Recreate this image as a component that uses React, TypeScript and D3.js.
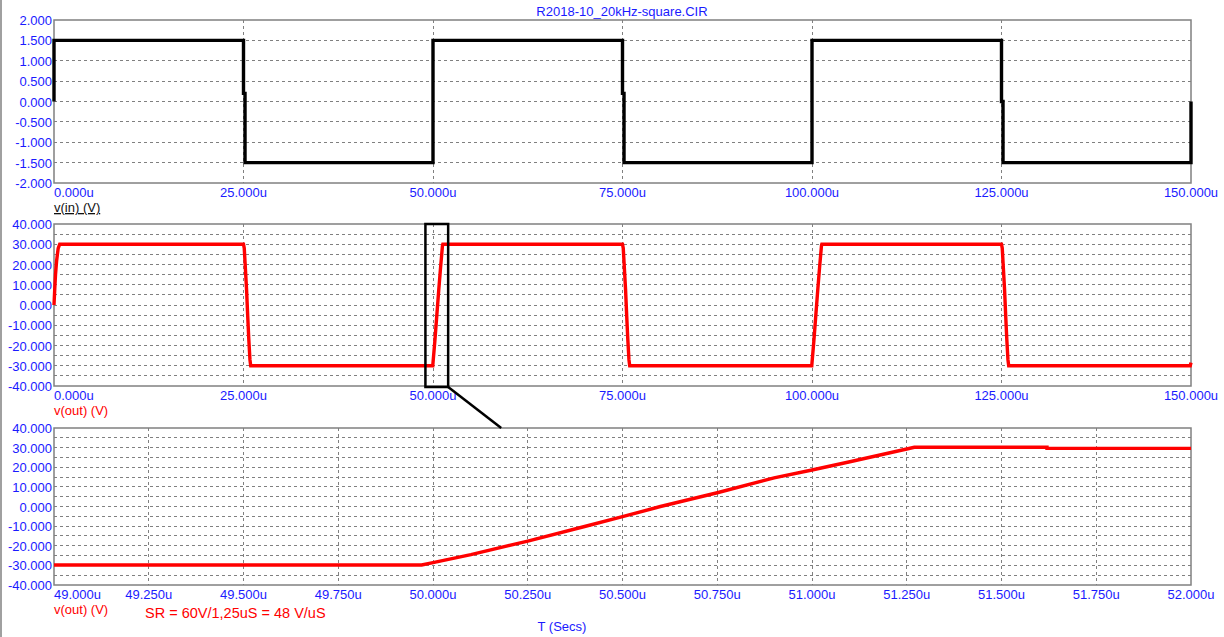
import React from "react";
import * as d3 from "d3";

// time in microseconds, value in volts
const vinPoints: [number, number][] = [
  [0, 0], [0, 1.5], [25, 1.5], [25, 0.2], [25.2, 0.2], [25.2, -1.5],
  [50, -1.5], [50, 1.5], [75, 1.5], [75, 0.2], [75.2, 0.2], [75.2, -1.5],
  [100, -1.5], [100, 1.5], [125, 1.5], [125, 0], [125.2, 0], [125.2, -1.5],
  [150, -1.5], [150, 0],
];

const voutPoints: [number, number][] = [
  [0, 0], [0.1, 8], [0.2, 15], [0.35, 22], [0.55, 28], [0.75, 30],
  [25, 30], [25.1, 28], [25.25, 18], [25.4, 8], [25.55, -5], [25.7, -17], [25.85, -27], [25.95, -30],
  [49.97, -30], [50, -28.6], [50.25, -17.6], [50.5, -5.2], [50.75, 7], [51, 18.6], [51.25, 29.3], [51.3, 30],
  [75, 30], [75.1, 28], [75.25, 18], [75.4, 8], [75.55, -5], [75.7, -17], [75.85, -27], [75.95, -30],
  [99.97, -30], [100, -28.6], [100.25, -17.6], [100.5, -5.2], [100.75, 7], [101, 18.6], [101.25, 29.3], [101.3, 30],
  [125, 30], [125.1, 28], [125.25, 18], [125.4, 8], [125.55, -5], [125.7, -17], [125.85, -27], [125.95, -30],
  [149.9, -30], [150, -28.5],
];

const zoomPoints: [number, number][] = [
  [49, -29.8], [49.97, -29.8], [50, -28.6], [50.1, -24.5], [50.25, -17.6], [50.4, -10.2],
  [50.5, -5.2], [50.6, 0], [50.75, 7], [50.9, 14.6], [51, 18.6], [51.1, 22.8], [51.25, 29.3],
  [51.27, 30.2], [51.62, 30.2], [51.62, 29.6], [52, 29.6],
];

const fullTimeTicks = [0, 25, 50, 75, 100, 125, 150];
const zoomTimeTicks = [49, 49.25, 49.5, 49.75, 50, 50.25, 50.5, 50.75, 51, 51.25, 51.5, 51.75, 52];
const vinTicks = [-2, -1.5, -1, -0.5, 0, 0.5, 1, 1.5, 2];
const voutTicks = [-40, -30, -20, -10, 0, 10, 20, 30, 40];
const voutGrid = [-35, -25, -15, -5, 5, 15, 25, 35];

const title = "R2018-10_20kHz-square.CIR";
const note = "SR = 60V/1,25uS = 48 V/uS";

const W = 1224;
const H = 637;
const left = 54;
const right = 1191;
const font = "'Liberation Sans', Arial, sans-serif";
const blue = "#1a1aff";
const grey = "#808080";

interface PanelProps {
  top: number;
  bottom: number;
  xDomain: [number, number];
  yDomain: [number, number];
  xTicks: number[];
  yTicks: number[];
  yGrid: number[];
  yFmt: (v: number) => string;
  data: [number, number][];
  color: string;
  label: string;
  labelColor: string;
  underline?: boolean;
}

function Panel(p: PanelProps) {
  const x = d3.scaleLinear().domain(p.xDomain).range([left, right]);
  const y = d3.scaleLinear().domain(p.yDomain).range([p.bottom, p.top]);
  const line = d3.line<[number, number]>().x(d => x(d[0])).y(d => y(d[1]));
  const inner = p.xTicks.slice(1, -1);
  return (
    <g>
      {p.yGrid.concat(p.yTicks.slice(1, -1)).map(v => (
        <line key={"h" + v} x1={left} x2={right} y1={y(v)} y2={y(v)}
          stroke={grey} strokeDasharray="3,3" shapeRendering="crispEdges" />
      ))}
      {inner.map(t => (
        <line key={"v" + t} x1={x(t)} x2={x(t)} y1={p.top} y2={p.bottom}
          stroke={grey} strokeDasharray="3,3" shapeRendering="crispEdges" />
      ))}
      <rect x={left} y={p.top} width={right - left} height={p.bottom - p.top}
        fill="none" stroke={grey} strokeWidth={1.5} />
      <path d={line(p.data) || ""} fill="none" stroke={p.color} strokeWidth={3.4} />
      {p.yTicks.map(v => (
        <text key={"yt" + v} x={left - 2} y={y(v) + 5} textAnchor="end"
          fontSize={13} fill={blue} fontFamily={font}>{p.yFmt(v)}</text>
      ))}
      {p.xTicks.map((t, i) => (
        <text key={"xt" + t} x={x(t)} y={p.bottom + 14} textAnchor={i === 0 ? "start" : "middle"}
          fontSize={13} fill={blue} fontFamily={font}>{t.toFixed(3) + "u"}</text>
      ))}
      <text x={left} y={p.bottom + 29} fontSize={13} fill={p.labelColor} fontFamily={font}
        textDecoration={p.underline ? "underline" : undefined}>{p.label}</text>
    </g>
  );
}

export default function App() {
  const fmt = (v: number) => v.toFixed(3);
  const x2 = d3.scaleLinear().domain([0, 150]).range([left, right]);
  const x3 = d3.scaleLinear().domain([49, 52]).range([left, right]);
  const p2 = { top: 224, bottom: 386 };
  const p3 = { top: 428, bottom: 585 };
  return (
    <svg width={W} height={H} style={{ position: "absolute", left: 0, top: 0, background: "#fff" }}>
      <line x1={1} x2={1} y1={0} y2={H} stroke="#a0a0a0" strokeWidth={2} />
      <text x={622} y={15.5} textAnchor="middle" fontSize={13} fill={blue} fontFamily={font}>{title}</text>
      <Panel top={20} bottom={183} xDomain={[0, 150]} yDomain={[-2, 2]} xTicks={fullTimeTicks}
        yTicks={vinTicks} yGrid={[]} yFmt={fmt} data={vinPoints} color="#000"
        label="v(in) (V)" labelColor="#111" underline />
      <Panel top={p2.top} bottom={p2.bottom} xDomain={[0, 150]} yDomain={[-40, 40]} xTicks={fullTimeTicks}
        yTicks={voutTicks} yGrid={voutGrid} yFmt={fmt} data={voutPoints} color="#ff0000"
        label="v(out) (V)" labelColor="#ff0000" />
      <Panel top={p3.top} bottom={p3.bottom} xDomain={[49, 52]} yDomain={[-40, 40]} xTicks={zoomTimeTicks}
        yTicks={voutTicks} yGrid={voutGrid} yFmt={fmt} data={zoomPoints} color="#ff0000"
        label="v(out) (V)" labelColor="#ff0000" />
      {/* zoom window and connector */}
      <rect x={x2(49)} y={p2.top} width={x2(52) - x2(49)} height={p2.bottom - p2.top + 1}
        fill="none" stroke="#000" strokeWidth={2.5} />
      <line x1={x2(52)} y1={p2.bottom + 1} x2={x3(50.18)} y2={p3.top} stroke="#000" strokeWidth={2.5} />
      <text x={145} y={618} fontSize={14.5} fill="#ff0000" fontFamily={font}>{note}</text>
      <text x={562} y={631} textAnchor="middle" fontSize={13} fill={blue} fontFamily={font}>T (Secs)</text>
    </svg>
  );
}
